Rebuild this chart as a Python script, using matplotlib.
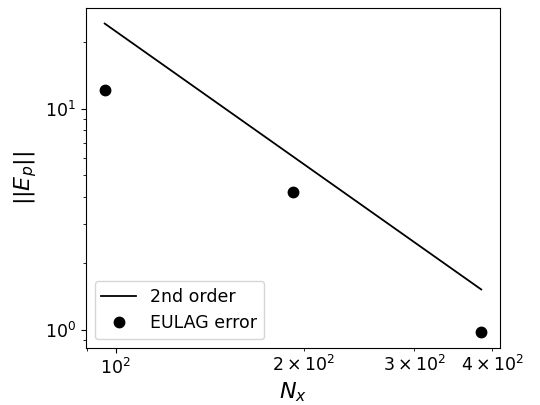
import numpy as np
import matplotlib.pyplot as plt

plt.rcParams['font.size'] = 12.5

# grid resolution and measured error
nx = np.array([96, 192, 384])
err = np.array([12.2, 4.21, 0.97])

# second order reference line
ref_start = 24.3
ref = ref_start * (nx[0] / nx) ** 2

fig = plt.figure(figsize=(5.4, 4.05), dpi=100)
ax = fig.add_axes([0.159, 0.141, 0.767, 0.839])
ax.loglog(nx, ref, 'k-', lw=1.3, label='2nd order')
ax.loglog(nx, err, 'ko', ms=7.5, label='EULAG error')
ax.set_xlabel(r'$N_x$', fontsize=16, labelpad=2)
ax.set_ylabel(r'$||E_p||$', fontsize=16, labelpad=4)
ax.legend(loc='lower left')
fig.savefig('out.png', dpi=100)
